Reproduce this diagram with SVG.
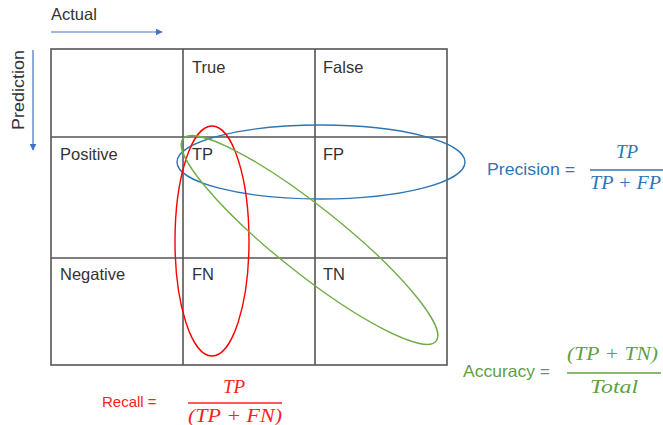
<svg xmlns="http://www.w3.org/2000/svg" width="663" height="425" viewBox="0 0 663 425">
<style>
.lbl{font-family:"Liberation Sans",Arial,sans-serif;font-size:16.5px;fill:#333}
.grid{stroke:#555;stroke-width:1.6;fill:none}
.math{font-family:"Liberation Serif","Times New Roman",serif;font-style:italic;font-size:19px}
.f{font-family:"Liberation Sans",Arial,sans-serif;font-size:16.5px}
</style>
<defs>
<marker id="ah" viewBox="0 0 10 10" refX="9" refY="5" markerWidth="7" markerHeight="7" markerUnits="userSpaceOnUse" orient="auto"><path d="M0,0 L10,5 L0,10 z" fill="#4472C4"/></marker>
</defs>
<rect width="663" height="425" fill="#fff"/>
<g id="axes">
<text class="lbl" x="51" y="20">Actual</text>
<line x1="51" y1="32" x2="162" y2="32" stroke="#4472C4" stroke-width="1.2" marker-end="url(#ah)"/>
<text class="lbl" transform="translate(24,130) rotate(-90)" textLength="80" lengthAdjust="spacingAndGlyphs">Prediction</text>
<line x1="33" y1="50" x2="33" y2="150" stroke="#4472C4" stroke-width="1.2" marker-end="url(#ah)"/>
</g>
<g id="matrix">
<rect class="grid" x="51" y="49" width="396" height="316"/>
<line class="grid" x1="183" y1="49" x2="183" y2="365"/>
<line class="grid" x1="315" y1="49" x2="315" y2="365"/>
<line class="grid" x1="51" y1="137" x2="447" y2="137"/>
<line class="grid" x1="51" y1="258" x2="447" y2="258"/>
<text class="lbl" x="192" y="73">True</text>
<text class="lbl" x="323" y="73">False</text>
<text class="lbl" x="60" y="160">Positive</text>
<text class="lbl" x="60" y="280">Negative</text>
<text class="lbl" x="192" y="160">TP</text>
<text class="lbl" x="323" y="160">FP</text>
<text class="lbl" x="192" y="280">FN</text>
<text class="lbl" x="323" y="280">TN</text>
</g>
<g id="connectors" fill="none" stroke-width="1.4">
<ellipse cx="321" cy="162" rx="144" ry="37" stroke="#2E75B6"/>
<ellipse cx="212" cy="241" rx="37" ry="115" stroke="#FF0000"/>
<ellipse cx="0" cy="0" rx="162" ry="33" stroke="#70AD47" transform="translate(309.5,240) rotate(38.6)"/>
</g>
<g id="precision" fill="#2E75B6">
<text class="f" x="487" y="175" textLength="88" lengthAdjust="spacingAndGlyphs">Precision =</text>
<text class="math" x="627" y="158" text-anchor="middle">TP</text>
<line x1="590" y1="170" x2="663" y2="170" stroke="#2E75B6" stroke-width="1.5"/>
<text class="math" x="590" y="189" textLength="71" lengthAdjust="spacingAndGlyphs">TP + FP</text>
</g>
<g id="recall" fill="#FF2020">
<text class="f" x="102" y="407" style="font-size:15px">Recall =</text>
<text class="math" x="234" y="393" text-anchor="middle">TP</text>
<line x1="188" y1="403" x2="282" y2="403" stroke="#FF2020" stroke-width="1.5"/>
<text class="math" x="188" y="422" textLength="94" lengthAdjust="spacingAndGlyphs">(TP + FN)</text>
</g>
<g id="accuracy" fill="#62A040">
<text class="f" x="463" y="377" textLength="87" lengthAdjust="spacingAndGlyphs">Accuracy =</text>
<text class="math" x="567" y="360" textLength="91" lengthAdjust="spacingAndGlyphs">(TP + TN)</text>
<line x1="567" y1="373" x2="661" y2="373" stroke="#62A040" stroke-width="1.5"/>
<text class="math" x="590" y="393" textLength="48" lengthAdjust="spacingAndGlyphs">Total</text>
</g>
</svg>
